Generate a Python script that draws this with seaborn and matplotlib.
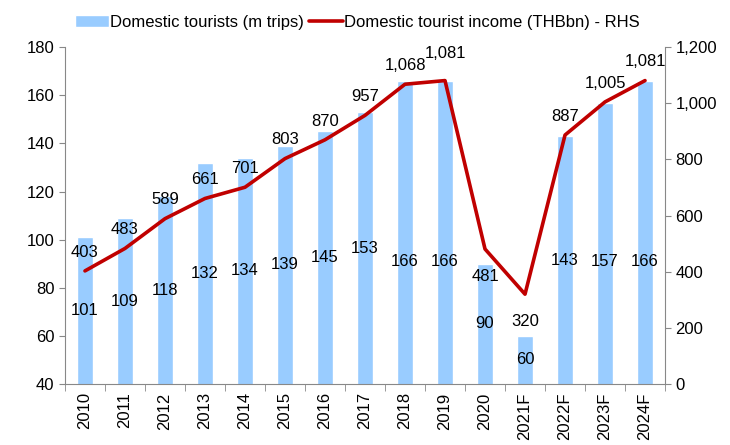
import matplotlib
matplotlib.use("Agg")
import matplotlib.pyplot as plt
import seaborn as sns
import numpy as np

years = ['2010', '2011', '2012', '2013', '2014', '2015', '2016', '2017',
         '2018', '2019', '2020', '2021F', '2022F', '2023F', '2024F']
tourists = [101, 109, 118, 132, 134, 139, 145, 153, 166, 166, 90, 60, 143, 157, 166]
income = [403, 483, 589, 661, 701, 803, 870, 957, 1068, 1081, 481, 320, 887, 1005, 1081]

sns.set_style("white")
plt.rcParams['font.family'] = ['Liberation Sans', 'DejaVu Sans']
plt.rcParams['font.size'] = 12
plt.rcParams['text.color'] = 'black'
plt.rcParams['xtick.color'] = 'black'
plt.rcParams['ytick.color'] = 'black'

bar_col = '#99ccff'
line_col = '#c00000'
grey = '#888888'

fig = plt.figure(figsize=(7.3, 4.45), dpi=100)
ax = fig.add_axes([0.089, 0.137, 0.822, 0.757])
sns.barplot(x=years, y=tourists, color=bar_col, width=0.4, saturation=1, ax=ax,
            label='Domestic tourists (m trips)')
ax.set_ylim(40, 180)
ax.set_xlim(-0.5, len(years) - 0.5)

ax2 = ax.twinx()
sns.lineplot(x=years, y=income, color=line_col, linewidth=2.6, sort=False, ax=ax2,
             label='Domestic tourist income (THBbn) - RHS')
ax2.set_ylim(0, 1200)
ax2.set_xlim(-0.5, len(years) - 0.5)

# bar labels (mid-bar, a few pulled down to keep clear of the line)
for i, v in enumerate(tourists):
    y = (v + 40) / 2
    if v >= 155:
        y = 91
    ax.text(i, y, str(v), ha='center', va='center', fontsize=12)

# line labels
for i, v in enumerate(income):
    if years[i] in ('2020', '2021F'):
        ax2.text(i, v - 70, f'{v:,}', ha='center', va='top', fontsize=12)
    elif years[i] == '2019':
        ax2.text(i, v + 70, f'{v:,}', ha='center', va='bottom', fontsize=12)
    else:
        ax2.text(i, v + 40, f'{v:,}', ha='center', va='bottom', fontsize=12)

ax.set_yticks(np.arange(40, 181, 20))
ax2.set_yticks(np.arange(0, 1201, 200))
ax2.set_yticklabels([f'{t:,}' for t in range(0, 1201, 200)])

for a in (ax, ax2):
    a.spines['top'].set_visible(False)
    for s in ('left', 'right', 'bottom'):
        a.spines[s].set_color(grey)
ax2.spines['bottom'].set_visible(False)
ax.spines['right'].set_visible(False)
ax2.spines['left'].set_visible(False)

ax.tick_params(axis='y', left=True, length=4, color=grey, labelcolor='black', labelsize=12)
ax2.tick_params(axis='y', right=True, length=4, color=grey, labelcolor='black', labelsize=12)
ax.set_xticks(range(len(years)))
ax.set_xticklabels(years, rotation=90)
ax.tick_params(axis='x', which='major', length=0, labelcolor='black', labelsize=12, pad=6)
ax.set_xticks(np.arange(-0.5, len(years), 1), minor=True)
ax.tick_params(axis='x', which='minor', bottom=True, length=5, color=grey)
ax.set_xlabel('')
ax.set_ylabel('')
ax2.set_ylabel('')

h1, l1 = ax.get_legend_handles_labels()
h2, l2 = ax2.get_legend_handles_labels()
if ax.get_legend():
    ax.get_legend().remove()
if ax2.get_legend():
    ax2.get_legend().remove()
fig.legend(h1 + h2, l1 + l2, loc='upper center', bbox_to_anchor=(0.49, 1.0), ncol=2,
           frameon=False, fontsize=12, handlelength=2.0, handletextpad=0.1,
           columnspacing=0.3)

fig.savefig('out.png', dpi=100)
